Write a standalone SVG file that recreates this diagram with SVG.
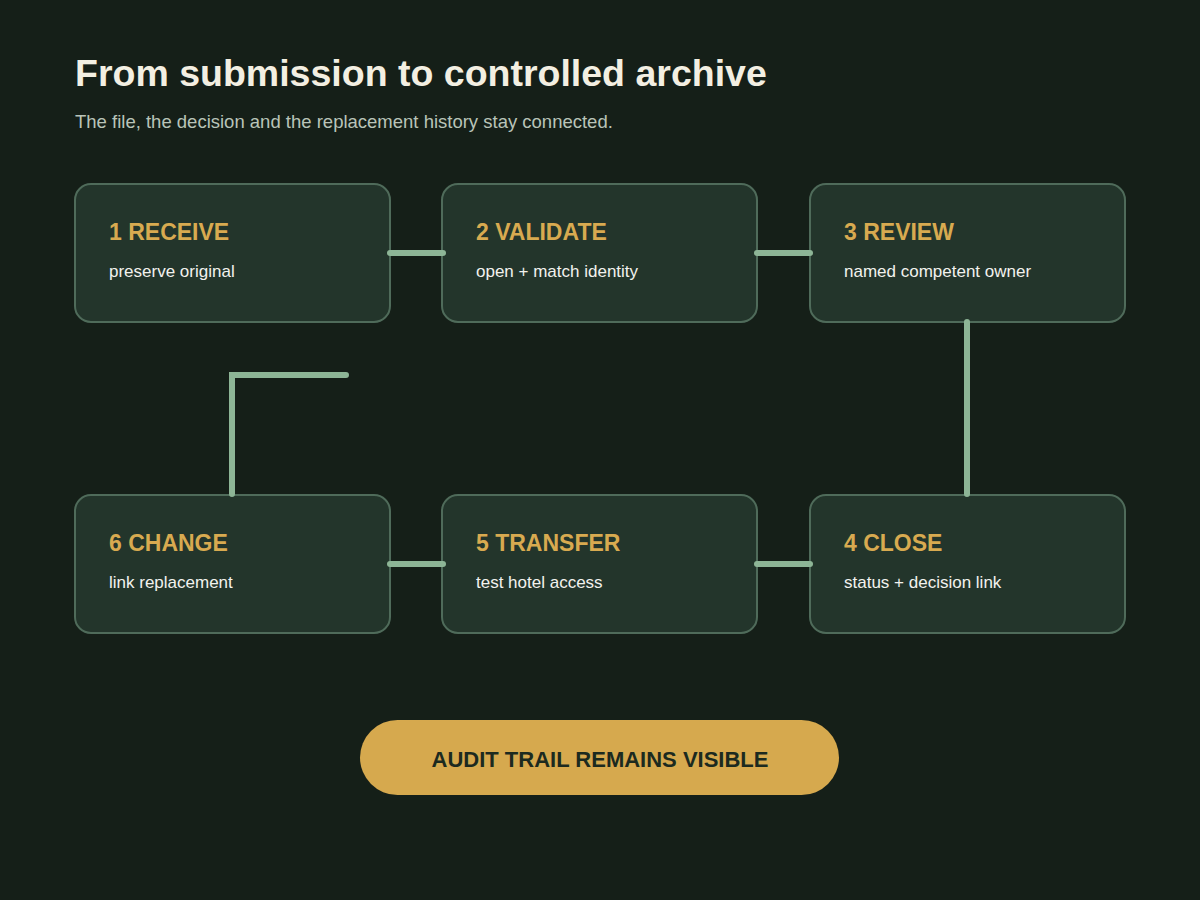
<svg xmlns="http://www.w3.org/2000/svg" width="1200" height="900" viewBox="0 0 1200 900">
<style>
.box{fill:#23352b;stroke:#4f6b5a;stroke-width:2}
.h{font-family:"Liberation Sans",Arial,sans-serif;font-weight:bold;font-size:23px;fill:#d8aa50}
.s{font-family:"Liberation Sans",Arial,sans-serif;font-size:17px;fill:#f2f2ee}
.c{fill:none;stroke:#8db596;stroke-width:6;stroke-linecap:round}
</style>
<rect width="1200" height="900" fill="#151f18"/>
<text x="75" y="86" font-family="Liberation Sans,Arial,sans-serif" font-weight="bold" font-size="37.5" fill="#f3efe2">From submission to controlled archive</text>
<text x="75" y="128" font-family="Liberation Sans,Arial,sans-serif" font-size="18.5" fill="#b9c4b8">The file, the decision and the replacement history stay connected.</text>
<g id="n1"><rect class="box" x="75" y="184" width="315" height="138" rx="16"/><text class="h" x="109" y="240">1 RECEIVE</text><text class="s" x="109" y="277">preserve original</text></g>
<g id="n2"><rect class="box" x="442" y="184" width="315" height="138" rx="16"/><text class="h" x="476" y="240">2 VALIDATE</text><text class="s" x="476" y="277">open + match identity</text></g>
<g id="n3"><rect class="box" x="810" y="184" width="315" height="138" rx="16"/><text class="h" x="844" y="240">3 REVIEW</text><text class="s" x="844" y="277">named competent owner</text></g>
<g id="n4"><rect class="box" x="810" y="495" width="315" height="138" rx="16"/><text class="h" x="844" y="551">4 CLOSE</text><text class="s" x="844" y="588">status + decision link</text></g>
<g id="n5"><rect class="box" x="442" y="495" width="315" height="138" rx="16"/><text class="h" x="476" y="551">5 TRANSFER</text><text class="s" x="476" y="588">test hotel access</text></g>
<g id="n6"><rect class="box" x="75" y="495" width="315" height="138" rx="16"/><text class="h" x="109" y="551">6 CHANGE</text><text class="s" x="109" y="588">link replacement</text></g>
<g id="connectors">
<path class="c" d="M390 253H443"/>
<path class="c" d="M757 253H810"/>
<path class="c" d="M967 322V494"/>
<path class="c" d="M757 564H810"/>
<path class="c" d="M390 564H443"/>
<path class="c" d="M232 494V375H346" style="stroke-linejoin:miter"/>
</g>
<g id="audit"><rect x="360" y="720" width="479" height="75" rx="37.5" fill="#d6a94e"/><text x="600" y="767" text-anchor="middle" font-family="Liberation Sans,Arial,sans-serif" font-weight="bold" font-size="22" fill="#1c2a1f">AUDIT TRAIL REMAINS VISIBLE</text></g>
</svg>
